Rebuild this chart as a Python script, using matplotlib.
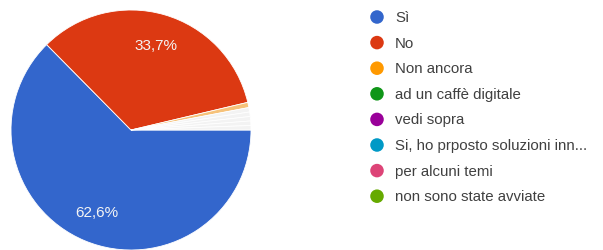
import matplotlib.pyplot as plt

labels = ["Sì", "No", "Non ancora", "ad un caffè digitale", "vedi sopra",
          "Si, ho prposto soluzioni inn...", "per alcuni temi", "non sono state avviate"]
values = [62.6, 33.7, 0.7, 0.6, 0.6, 0.6, 0.6, 0.6]
colors = ["#3366cc", "#dc3912", "#ff9900", "#109618", "#990099", "#0099c6", "#dd4477", "#66aa00"]

W, H = 603, 251
plt.rcParams["font.family"] = ["Liberation Sans", "DejaVu Sans"]
fig = plt.figure(figsize=(W / 100, H / 100), dpi=100)

# pie area
ax = fig.add_axes([11 / W, 0, 240 / W, 240 / H])

# small slices look washed out in the reference, draw them pale
fill = [c if v > 5 else "#f3f3f3" for c, v in zip(colors, values)]
fill[2] = "#f6c27a"


def pct(p):
    return "{:.1f}%".format(p).replace(".", ",") if p > 5 else ""


wedges, texts, autotexts = ax.pie(values, colors=fill, startangle=0, counterclock=False,
                                  radius=1, autopct=pct, pctdistance=0.74,
                                  wedgeprops=dict(edgecolor="white", linewidth=0.6),
                                  textprops=dict(color="#f4f4f4", fontsize=11))
ax.set_xlim(-1, 1)
ax.set_ylim(-1, 1)
ax.set_aspect("equal")
ax.axis("off")

# legend drawn by hand
lg = fig.add_axes([0, 0, 1, 1])
lg.set_xlim(0, W)
lg.set_ylim(H, 0)
lg.axis("off")
y0, step = 18, 25.6
for i, (lab, c) in enumerate(zip(labels, colors)):
    y = y0 + i * step
    lg.scatter([377], [y], s=95, color=c, edgecolors="none")
    lg.text(395, y, lab, fontsize=10.8, color="#404040", va="center", ha="left")

fig.savefig("out.png", dpi=100)
